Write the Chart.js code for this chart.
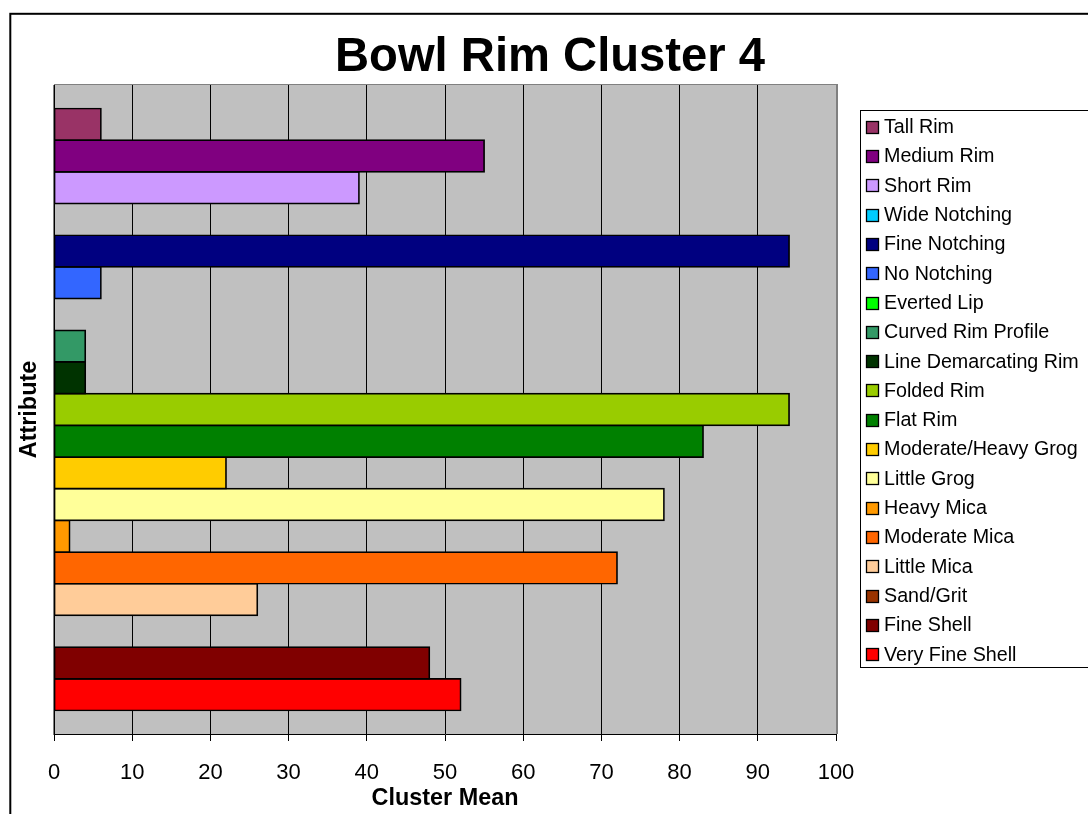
<!DOCTYPE html>
<html>
<head>
<meta charset="utf-8">
<style>
html,body{margin:0;padding:0;background:#fff;overflow:hidden}
canvas{display:block}
</style>
<script src="https://cdn.jsdelivr.net/npm/chart.js@4.4.0/dist/chart.umd.min.js"></script>
</head>
<body>
<canvas id="c" width="1088" height="814"></canvas>
<script>
// ---- data ----
const chartTitle = 'Bowl Rim Cluster 4';
const xAxisTitle = 'Cluster Mean';
const yAxisTitle = 'Attribute';
const categories = [''];
const seriesNames = [
  'Tall Rim', 'Medium Rim', 'Short Rim', 'Wide Notching', 'Fine Notching',
  'No Notching', 'Everted Lip', 'Curved Rim Profile', 'Line Demarcating Rim',
  'Folded Rim', 'Flat Rim', 'Moderate/Heavy Grog', 'Little Grog', 'Heavy Mica',
  'Moderate Mica', 'Little Mica', 'Sand/Grit', 'Fine Shell', 'Very Fine Shell'
];
const seriesValues = [6, 55, 39, 0, 94, 6, 0, 4, 4, 94, 83, 22, 78, 2, 72, 26, 0, 48, 52];
const seriesColors = [
  '#993366', '#800080', '#CC99FF', '#00CCFF', '#000080',
  '#3366FF', '#00FF00', '#339966', '#003300',
  '#99CC00', '#008000', '#FFCC00', '#FFFF99', '#FF9900',
  '#FF6600', '#FFCC99', '#993300', '#800000', '#FF0000'
];
const xMin = 0, xMax = 100, xStep = 10;

// ---- styling ----
const FONT = '"Liberation Sans", Arial, Helvetica, sans-serif';

const decor = {
  id: 'decor',
  beforeDraw(chart) {
    const c = chart.ctx, a = chart.chartArea;
    c.save();
    c.fillStyle = '#ffffff';
    c.fillRect(0, 0, chart.width, chart.height);
    c.fillStyle = '#C0C0C0';
    c.fillRect(a.left, a.top, a.right - a.left, a.bottom - a.top);
    c.restore();
  },
  afterDatasetsDraw(chart) {
    const c = chart.ctx, a = chart.chartArea;
    c.save();
    c.strokeStyle = '#808080';
    c.lineWidth = 1;
    c.beginPath();
    c.moveTo(a.left, a.top - 0.5);
    c.lineTo(a.right + 1, a.top - 0.5);
    c.stroke();
    c.lineWidth = 2;
    c.beginPath();
    c.moveTo(a.right + 1, a.top - 1);
    c.lineTo(a.right + 1, a.bottom);
    c.stroke();
    c.strokeStyle = '#000';
    c.lineWidth = 1.5;
    c.beginPath();
    c.moveTo(a.left + 0.25, a.top);
    c.lineTo(a.left + 0.25, a.bottom + 1);
    c.stroke();
    c.restore();
  },
  afterDraw(chart) {
    const c = chart.ctx;
    c.save();
    // outer chart border
    c.strokeStyle = '#000';
    c.lineWidth = 2;
    c.strokeRect(10.3, 13.8, 1200, 1000);
    // title
    c.fillStyle = '#000';
    c.font = 'bold 47.2px ' + FONT;
    c.textAlign = 'center';
    c.textBaseline = 'alphabetic';
    c.fillText(chartTitle, 550, 71);
    // legend
    c.lineWidth = 1;
    c.strokeStyle = '#000';
    c.strokeRect(860.5, 110.5, 400, 557);
    c.font = '19.7px ' + FONT;
    c.textAlign = 'left';
    c.textBaseline = 'middle';
    chart.data.datasets.forEach((ds, i) => {
      const y = 126.7 + 29.3 * i;
      const top = Math.round(y - 6) + 0.5;
      c.fillStyle = ds.backgroundColor;
      c.fillRect(866.5, top, 12, 12);
      c.strokeStyle = '#000';
      c.lineWidth = 1.3;
      c.strokeRect(866.5, top, 12, 12);
      c.fillStyle = '#000';
      c.fillText(ds.label, 884, y + 1);
    });
    c.restore();
  }
};

const datasets = seriesNames.map((name, i) => ({
  label: name,
  data: [seriesValues[i]],
  backgroundColor: seriesColors[i],
  borderColor: '#000000',
  borderWidth: seriesValues[i] === 0 ? 0 : 1.7,
  inflateAmount: seriesValues[i] === 0 ? 0 : 0.85,
  borderSkipped: false
}));

new Chart(document.getElementById('c'), {
  type: 'bar',
  data: { labels: categories, datasets },
  plugins: [decor],
  options: {
    responsive: false,
    devicePixelRatio: 1,
    animation: false,
    indexAxis: 'y',
    layout: { padding: { top: 85, right: 252, bottom: 0, left: 0 } },
    datasets: { bar: { barPercentage: 1, categoryPercentage: 0.9276 } },
    plugins: {
      legend: { display: false },
      title: { display: false },
      tooltip: { enabled: false }
    },
    scales: {
      x: {
        type: 'linear',
        min: xMin,
        max: xMax,
        ticks: {
          stepSize: xStep,
          color: '#000',
          font: { family: FONT, size: 22 },
          padding: 19,
          maxRotation: 0,
          autoSkip: false
        },
        grid: { color: '#000', lineWidth: 1, tickLength: 7, drawTicks: true },
        border: { display: true, color: '#000', width: 1 },
        title: {
          display: true,
          text: xAxisTitle,
          color: '#000',
          font: { family: FONT, size: 23.4, weight: 'bold' },
          padding: { top: 0, bottom: 1 }
        },
        afterFit(s) { s.height = 80; }
      },
      y: {
        type: 'category',
        ticks: { display: false },
        grid: { display: true, drawOnChartArea: false, drawTicks: false },
        border: { display: true, color: '#000', width: 1 },
        title: {
          display: true,
          text: yAxisTitle,
          color: '#000',
          font: { family: FONT, size: 23.4, weight: 'bold' },
          padding: { top: 16, bottom: 0 }
        },
        afterFit(s) { s.width = 54; }
      }
    }
  }
});
</script>
</body>
</html>
